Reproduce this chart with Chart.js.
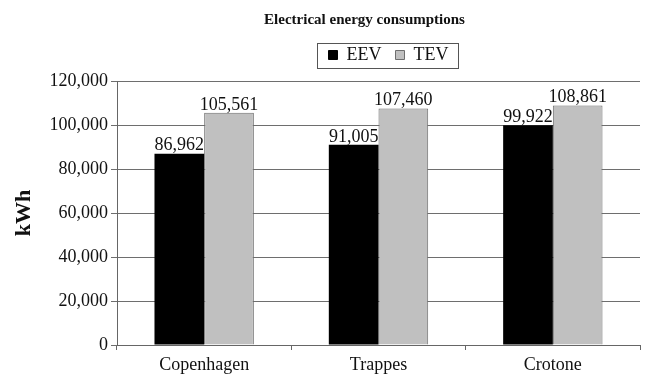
<!DOCTYPE html>
<html>
<head>
<meta charset="utf-8">
<script src="https://cdn.jsdelivr.net/npm/chart.js@4/dist/chart.umd.min.js"></script>
<style>
  html, body { margin: 0; padding: 0; background: #fff; }
  canvas { display: block; }
</style>
</head>
<body>
<canvas id="c" width="647" height="374"></canvas>
<script>
const categories = ["Copenhagen", "Trappes", "Crotone"];
const eevValues = [86962, 91005, 99922];
const tevValues = [105561, 107460, 108861];
const yTicks = [0, 20000, 40000, 60000, 80000, 100000, 120000];

const SERIF = "'Liberation Serif', 'Times New Roman', serif";
const fmt = v => v.toLocaleString('en-US');

// Writes each bar's value just above it
const valueLabels = {
  id: 'valueLabels',
  afterDatasetsDraw(chart) {
    const ctx = chart.ctx;
    ctx.save();
    ctx.font = "18px " + SERIF;
    ctx.fillStyle = '#111';
    ctx.textAlign = 'center';
    ctx.textBaseline = 'bottom';
    chart.data.datasets.forEach((ds, i) => {
      chart.getDatasetMeta(i).data.forEach((bar, j) => {
        ctx.fillText(fmt(ds.data[j]), bar.x, bar.y + 1);
      });
    });
    ctx.restore();
  }
};

// Gives the legend a little extra room below it
const legendSpacing = {
  id: 'legendSpacing',
  beforeInit(chart) {
    const fit = chart.legend.fit;
    chart.legend.fit = function () {
      fit.bind(chart.legend)();
      this.height += 7;
    };
  }
};

// Nudges the title left and the legend right of the plot centre
const headerOffsets = {
  id: 'headerOffsets',
  afterLayout(chart) {
    const t = chart.titleBlock, l = chart.legend;
    if (t) { t.left -= 14; t.right -= 14; }
    if (l) { l.left += 10; l.right += 10; }
  }
};

// Frames the legend entries with a thin box
const legendFrame = {
  id: 'legendFrame',
  afterDraw(chart) {
    const boxes = chart.legend && chart.legend.legendHitBoxes;
    if (!boxes || !boxes.length) return;
    let l = Infinity, r = -Infinity, t = Infinity, b = -Infinity;
    boxes.forEach(h => {
      l = Math.min(l, h.left); r = Math.max(r, h.left + h.width);
      t = Math.min(t, h.top); b = Math.max(b, h.top + h.height);
    });
    const cy = (t + b) / 2;
    const ctx = chart.ctx;
    ctx.save();
    ctx.strokeStyle = '#555';
    ctx.lineWidth = 1;
    ctx.strokeRect(Math.round(l - 12) + 0.5, Math.round(cy - 12.5) + 0.5, Math.round(r - l + 21), 25);
    ctx.restore();
  }
};

new Chart(document.getElementById('c'), {
  type: 'bar',
  data: {
    labels: categories,
    datasets: [
      {
        label: 'EEV',
        data: eevValues,
        backgroundColor: '#000000',
        borderColor: '#000000',
        borderWidth: 0
      },
      {
        label: 'TEV',
        data: tevValues,
        backgroundColor: '#c0c0c0',
        borderColor: '#6e6e6e',
        borderWidth: 1
      }
    ]
  },
  options: {
    responsive: false,
    animation: false,
    devicePixelRatio: 1,
    layout: { padding: { left: 0, right: 7, top: 5, bottom: 0 } },
    datasets: {
      bar: { categoryPercentage: 0.57, barPercentage: 1.0 }
    },
    plugins: {
      title: {
        display: true,
        fullSize: false,
        text: 'Electrical energy consumptions',
        color: '#111',
        font: { family: SERIF, size: 15, weight: 'bold', lineHeight: 1.2 },
        padding: { top: 6, bottom: 3 }
      },
      legend: {
        display: true,
        fullSize: false,
        position: 'top',
        labels: {
          color: '#111',
          font: { family: SERIF, size: 18 },
          boxWidth: 9,
          boxHeight: 9,
          padding: 14,
          generateLabels(chart) {
            return chart.data.datasets.map((ds, i) => ({
              text: ds.label,
              fillStyle: ds.backgroundColor,
              strokeStyle: i === 0 ? '#000' : '#6e6e6e',
              lineWidth: 1,
              hidden: false,
              datasetIndex: i,
              fontColor: '#111'
            }));
          }
        }
      },
      tooltip: { enabled: false }
    },
    scales: {
      x: {
        afterFit(scale) { scale.height = 29; },
        grid: {
          offset: true,
          drawOnChartArea: false,
          drawTicks: true,
          tickLength: 5,
          color: '#666'
        },
        border: { display: true, color: '#666', width: 1 },
        ticks: {
          color: '#111',
          font: { family: SERIF, size: 18, lineHeight: 1.0 },
          padding: 6
        }
      },
      y: {
        min: 0,
        max: 120000,
        afterBuildTicks(scale) {
          scale.ticks = yTicks.map(v => ({ value: v }));
        },
        afterFit(scale) { scale.width = 117; },
        grid: {
          color: '#6e6e6e',
          lineWidth: 1,
          drawTicks: true,
          tickLength: 6
        },
        border: { display: true, color: '#666', width: 1 },
        ticks: {
          color: '#111',
          font: { family: SERIF, size: 18 },
          padding: 3,
          callback: v => fmt(v)
        },
        title: {
          display: true,
          text: 'kWh',
          color: '#111',
          font: { family: SERIF, size: 22, weight: 'bold' },
          padding: { top: 11, bottom: 4 }
        }
      }
    }
  },
  plugins: [valueLabels, legendSpacing, headerOffsets, legendFrame]
});
</script>
</body>
</html>
